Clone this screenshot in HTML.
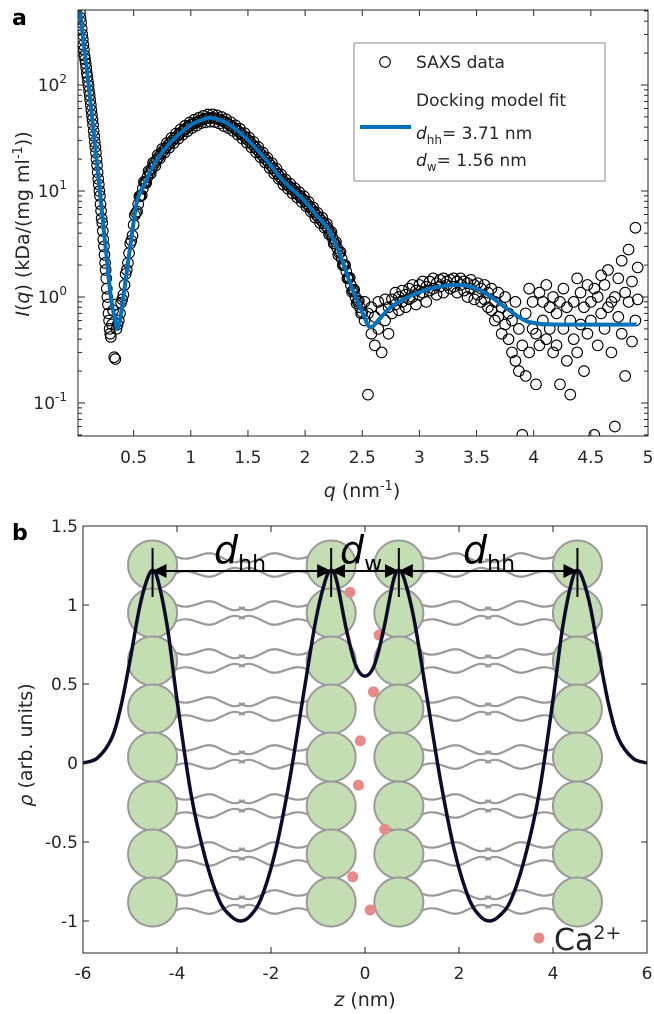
<!DOCTYPE html>
<html><head><meta charset="utf-8"><style>
html,body{margin:0;padding:0;background:#fff;}
svg{display:block;font-family:"DejaVu Sans","Liberation Sans",sans-serif;}
</style></head><body>
<svg id="fig" width="654" height="1014" viewBox="0 0 654 1014" xmlns="http://www.w3.org/2000/svg">
<defs>
<clipPath id="clipA"><rect x="78" y="10" width="570" height="426"/></clipPath>
<clipPath id="clipB"><rect x="83" y="526" width="564" height="427"/></clipPath>
<marker id="arr" viewBox="0 0 10 10" refX="10" refY="5" markerWidth="7" markerHeight="7" orient="auto-start-reverse"><path d="M0,0 L10,5 L0,10 z" fill="#000"/></marker>
</defs>
<g id="panelA"></g>
<g id="panelB"></g>
</svg>
<script>
// ---------- Panel a data ----------
const fitQ=[0.03,0.06,0.1,0.15,0.2,0.25,0.3,0.34,0.36,0.39,0.42,0.47,0.53,0.6,0.7,0.8,0.9,1.0,1.1,1.18,1.3,1.4,1.5,1.6,1.7,1.8,1.9,2.0,2.1,2.2,2.3,2.4,2.5,2.57,2.65,2.75,2.9,3.1,3.3,3.45,3.6,3.75,3.9,4.0,4.2,4.9];
const fitI=[500,260,115,36,11,3.3,1.0,0.6,0.5,0.7,1.2,3,8,12,19.5,27,34.5,42,47,49,44.6,37.8,30.3,23.3,17.4,12.8,10.1,8.0,5.9,4.4,2.6,1.3,0.72,0.52,0.62,0.8,1.0,1.2,1.3,1.25,1.05,0.8,0.62,0.57,0.55,0.55];
const dataQ=[0.03,0.035,0.04,0.045,0.05,0.055,0.06,0.065,0.07,0.075,0.08,0.085,0.09,0.095,0.1,0.105,0.11,0.115,0.12,0.125,0.13,0.135,0.14,0.145,0.15,0.155,0.16,0.165,0.17,0.175,0.18,0.185,0.19,0.195,0.2,0.205,0.21,0.215,0.22,0.225,0.23,0.235,0.24,0.245,0.25,0.255,0.26,0.265,0.27,0.275,0.28,0.285,0.29,0.295,0.3,0.31,0.32,0.33,0.34,0.345,0.35,
0.36,0.38,0.40,0.42,0.44,0.46,0.48,0.50,0.52,0.54,0.56,0.58,0.60,0.62,0.64,0.66,0.68,0.70,0.72,0.74,0.76,0.78,0.80,0.82,0.84,0.86,0.88,0.90,0.92,0.94,0.96,0.98,1.00,1.02,1.04,1.06,1.08,1.10,1.12,1.14,1.16,1.18,1.20,1.22,1.24,1.26,1.28,1.30,1.32,1.34,1.36,1.38,1.40,1.42,1.44,1.46,1.48,1.50,1.52,1.54,1.56,1.58,1.60,1.62,1.64,1.66,1.68,1.70,1.72,1.74,1.76,1.78,1.80,1.82,1.84,1.86,1.88,1.90,1.92,1.94,1.96,1.98,2.00,2.02,2.04,2.06,2.08,2.10,2.12,2.14,2.16,2.18,2.20,2.22,2.24,2.26,2.28,2.30,2.32,2.34,2.36,2.38,2.40,2.42,2.44,2.46,2.48,2.50,
2.52,2.52,2.55,2.55,2.58,2.58,2.61,2.61,2.64,2.64,2.67,2.67,2.70,2.70,2.73,2.73,2.76,2.76,2.79,2.79,2.82,2.82,2.85,2.85,2.88,2.88,2.91,2.91,2.94,2.94,2.97,2.97,3.00,3.00,3.03,3.03,3.06,3.06,3.09,3.09,3.12,3.12,3.15,3.15,3.18,3.18,3.21,3.21,3.24,3.24,3.27,3.27,3.30,3.30,3.33,3.33,3.36,3.36,3.39,3.39,3.42,3.42,3.45,3.45,3.48,3.48,3.51,3.51,3.54,3.54,3.57,3.57,3.60,3.60,3.63,3.63,3.66,3.66,3.69,3.69,3.72,3.72,3.75,3.75,3.78,3.78,3.81,3.81,3.84,3.84,3.87,3.87,3.90,3.90,3.93,3.93,3.96,3.96,3.99,3.99,4.02,4.02,4.05,4.05,4.08,4.08,4.11,4.11,4.14,4.14,4.17,4.17,4.20,4.20,4.23,4.23,4.26,4.26,4.29,4.29,4.32,4.32,4.35,4.35,4.38,4.38,4.41,4.41,4.44,4.44,4.47,4.47,4.50,4.50,4.53,4.53,4.56,4.56,4.59,4.59,4.62,4.62,4.65,4.65,4.68,4.68,4.71,4.71,4.74,4.74,4.77,4.77,4.80,4.80,4.83,4.83,4.86,4.86,4.89,4.89,4.91,4.91];
const dataI=[480,430,390,340,300,270,240,215,190,175,160,145,130,120,108,98,88,80,72,65,58,52,47,42,37,33,29,26,23,20,17.5,15,13,11.5,10,9,7.5,6.5,5.5,5,4.2,3.5,3,2.5,2.1,1.8,1.5,1.2,1.0,0.85,0.7,0.6,0.5,0.45,0.42,0.55,0.75,0.27,0.26,0.85,0.5,
0.55,0.7,0.95,1.3,1.8,2.6,3.4,4.8,6.2,7.5,9,10.5,12,13.5,15,16.5,18,19.5,21,22.5,24,25.5,27,28.5,30,31.5,33,34.5,36,37.5,39,40.5,42,43,44,45,46,47,47.8,48.5,49,49,48.8,48.3,47.5,46.7,45.7,44.6,43.3,42,40.6,39.2,37.8,36.3,34.8,33.3,31.8,30.3,28.8,27.4,26,24.6,23.3,22,20.8,19.6,18.5,17.4,16.4,15.4,14.5,13.6,12.8,12.2,11.6,11.1,10.6,10.1,9.6,9.2,8.8,8.4,8.0,7.5,7.1,6.7,6.3,5.9,5.6,5.3,5.0,4.7,4.4,4.0,3.6,3.2,2.9,2.6,2.3,2.0,1.75,1.5,1.3,1.15,1.0,0.9,0.8,0.72,
0.9,0.6,0.7,0.12,0.45,0.8,0.35,0.65,0.5,0.9,0.3,0.75,0.6,0.95,0.8,0.45,0.95,0.7,0.85,1.1,1.0,0.75,0.9,1.15,1.05,0.8,1.2,0.95,1.0,1.3,1.15,0.85,1.3,1.05,1.1,1.4,1.25,0.9,1.4,1.15,1.2,1.5,1.35,1.05,1.25,1.45,1.5,1.1,1.3,1.4,1.45,1.2,1.25,1.5,1.4,1.1,1.3,1.5,1.15,1.4,1.35,1.0,1.2,1.45,1.3,0.95,1.05,1.35,1.2,0.9,0.95,1.3,1.1,0.8,0.75,1.2,0.9,0.6,0.65,1.1,0.8,0.45,1.0,0.55,0.4,0.7,0.6,0.3,0.25,0.9,0.5,0.2,0.35,0.05,0.7,0.18,0.3,1.2,0.9,0.5,0.45,0.15,1.1,0.35,0.6,0.9,0.4,1.3,0.8,0.5,1.0,0.3,0.35,0.7,0.9,0.15,0.5,1.2,0.25,0.8,0.12,0.6,0.9,0.4,1.5,0.3,0.55,1.1,0.8,0.2,1.3,0.45,0.6,0.9,0.05,1.2,1.0,0.35,1.6,0.7,0.5,1.3,1.8,0.8,0.9,0.3,0.06,1.0,1.5,0.65,2.2,0.45,1.1,0.18,2.8,0.9,1.4,0.38,4.5,0.6,1.9,0.95];
const denseQ=[0.37,0.39,0.41,0.43,0.45,0.47,0.49,0.51,0.53,0.55,0.57,0.59,0.61,0.63,0.65,0.67,0.69,0.71,0.73,0.75,0.77,0.79,0.81,0.83,0.85,0.87,0.89,0.91,0.93,0.95,0.97,0.99,1.01,1.03,1.05,1.07,1.09,1.11,1.13,1.15,1.17,1.19,1.21,1.23,1.25,1.27,1.29,1.31,1.33,1.35,1.37,1.39,1.41,1.43,1.45,1.47,1.49,1.51,1.53,1.55,1.57,1.59,1.61,1.63,1.65,1.67,1.69,1.71,1.73,1.75,1.77,1.79,1.81,1.83,1.85,1.87,1.89,1.91,1.93,1.95,1.97,1.99,2.01,2.03,2.05,2.07,2.09,2.11,2.13,2.15,2.17,2.19,2.21,2.23,2.25,2.27,2.29,2.31,2.33,2.35,2.37,2.39,2.41,2.43,2.45,2.47,2.49];
const denseI=[0.6,0.88,1.05,1.65,2.1,3.2,3.8,5.9,6.4,8.9,9.1,12.2,11.9,15.4,14.6,18.5,17.3,21.8,20.3,25,23,28.3,25.6,31.6,28.3,34.8,31.1,38.1,34,41.3,36.6,44.3,39.3,47,41.4,49.1,43.7,51.1,44.4,52.7,45.1,52.9,44.7,51.7,43.3,49.9,40.9,47.5,39.2,44.6,36.9,41.6,34.1,38.6,31.3,35.2,28.5,32,25.8,29,23.2,26,20.8,23.1,18.6,20.6,16.5,18.3,14.6,16.2,13,14.3,11.5,12.8,10.5,11.7,9.5,10.6,8.7,9.7,7.9,8.9,7.2,7.9,6.4,7.0,5.6,6.2,5.0,5.6,4.5,4.9,3.9,4.1,3.2,3.3,2.5,2.65,2.0,2.0,1.5,1.52,1.12,1.17,0.87,0.92,0.7];
const qTicks=[0.5,1,1.5,2,2.5,3,3.5,4,4.5,5];
const qTickLabels=["0.5","1","1.5","2","2.5","3","3.5","4","4.5","5"];
const iTickExp=[2,1,0,-1];

// ---------- Panel b data ----------
const zTicks=[-6,-4,-2,0,2,4,6];
const rhoTicks=[1.5,1,0.5,0,-0.5,-1];
const rhoTickLabels=["1.5","1","0.5","0","-0.5","-1"];
const profZ=[-6,-5.7,-5.4,-5.2,-5.0,-4.8,-4.65,-4.52,-4.4,-4.2,-4.0,-3.7,-3.4,-3.1,-2.85,-2.65,-2.45,-2.2,-1.9,-1.6,-1.3,-1.05,-0.85,-0.72,-0.6,-0.4,-0.2,0,0.2,0.4,0.6,0.72,0.85,1.05,1.3,1.6,1.9,2.2,2.45,2.65,2.85,3.1,3.4,3.7,4.0,4.2,4.4,4.52,4.65,4.8,5.0,5.2,5.4,5.7,6];
const profRho=[0,0.03,0.15,0.35,0.65,0.98,1.15,1.22,1.15,0.85,0.4,-0.2,-0.6,-0.87,-0.97,-1.0,-0.97,-0.85,-0.55,-0.1,0.45,0.9,1.15,1.22,1.15,0.85,0.62,0.55,0.62,0.85,1.15,1.22,1.15,0.9,0.45,-0.1,-0.55,-0.85,-0.97,-1.0,-0.97,-0.87,-0.6,-0.2,0.4,0.85,1.15,1.22,1.15,0.98,0.65,0.35,0.15,0.03,0];
const headZ=[-4.52,-0.72,0.72,4.52];
const tailDir=[1,-1,1,-1];
const ionZ=[-0.32,0.3,0.18,-0.1,-0.14,0.42,-0.26,0.11];
const ionRho=[1.08,0.81,0.45,0.14,-0.14,-0.42,-0.72,-0.93];

const NS="http://www.w3.org/2000/svg";
function mk(tag,attrs,parent){const e=document.createElementNS(NS,tag);for(const k in attrs)e.setAttribute(k,attrs[k]);parent.appendChild(e);return e;}
function smooth(pts){let d=`M${pts[0][0]},${pts[0][1]}`;for(let i=0;i<pts.length-1;i++){const p0=pts[i-1]||pts[i],p1=pts[i],p2=pts[i+1],p3=pts[i+2]||p2;
d+=` C${p1[0]+(p2[0]-p0[0])/6},${p1[1]+(p2[1]-p0[1])/6} ${p2[0]-(p3[0]-p1[0])/6},${p2[1]-(p3[1]-p1[1])/6} ${p2[0]},${p2[1]}`;}return d;}

// ===== Panel A =====
const A=document.getElementById('panelA');
const xq=q=>76.5+114.3*q;
const yI=v=>297-106*Math.log10(v);
const gd=mk('g',{'clip-path':'url(#clipA)'},A);


for(let i=0;i<dataQ.length;i++){
 const c=mk('circle',{cx:xq(dataQ[i]),cy:yI(dataI[i]),r:5.3,fill:'none',stroke:'#000','stroke-width':1.1},gd);
 
 
}
for(let i=0;i<denseQ.length;i++){
 const c=mk('circle',{cx:xq(denseQ[i]),cy:yI(denseI[i]),r:5.3,fill:'none',stroke:'#000','stroke-width':1.1},gd);
 
 
}
const fitPath=mk('path',{d:smooth(fitQ.map((q,i)=>[xq(q),yI(fitI[i])])),fill:'none',stroke:'#0072BD','stroke-width':4,'clip-path':'url(#clipA)'},A);


const fa=mk('rect',{x:78,y:10,width:570,height:426,fill:'none',stroke:'#262626','stroke-width':1},A);


qTicks.forEach((q,i)=>{const x=xq(q);
 mk('line',{x1:x,y1:436,x2:x,y2:430,stroke:'#262626'},A);mk('line',{x1:x,y1:10,x2:x,y2:16,stroke:'#262626'},A);
 const t=mk('text',{x:x,y:463,'text-anchor':'middle','font-size':17,fill:'#262626'},A);t.textContent=qTickLabels[i];
 
 
});
for(let e=-2;e<=2;e++){for(let m=1;m<10;m++){const v=m*Math.pow(10,e);const y=yI(v);if(y<10||y>436)continue;const L=m===1?7:4;
 mk('line',{x1:78,y1:y,x2:78+L,y2:y,stroke:'#262626'},A);mk('line',{x1:648,y1:y,x2:648-L,y2:y,stroke:'#262626'},A);}}
iTickExp.forEach(e=>{const y=yI(Math.pow(10,e));
 const t=mk('text',{x:67,y:y+6,'text-anchor':'end','font-size':17,fill:'#262626'},A);
 
 
 t.innerHTML=`10<tspan dy="-8" font-size="12">${e}</tspan>`;
});
let t=mk('text',{x:12,y:25,'font-size':22,'font-weight':'bold',fill:'#000'},A);t.textContent='a';

t=mk('text',{x:0,y:0,'text-anchor':'middle','font-size':19,fill:'#262626',transform:'translate(29,224) rotate(-90)'},A);

t.innerHTML='<tspan font-style="italic">I</tspan>(<tspan font-style="italic">q</tspan>) (kDa/(mg ml<tspan dy="-7" font-size="13">-1</tspan><tspan dy="7">))</tspan>';
t=mk('text',{x:362,y:497,'text-anchor':'middle','font-size':19,fill:'#262626'},A);

t.innerHTML='<tspan font-style="italic">q</tspan> (nm<tspan dy="-7" font-size="13">-1</tspan><tspan dy="7">)</tspan>';
const lg=mk('g',{},A);
mk('rect',{x:354,y:43,width:251,height:138,fill:'#fff',stroke:'#8a8a8a','stroke-width':1},lg);
mk('circle',{cx:385,cy:62,r:5.3,fill:'none',stroke:'#000','stroke-width':1.1},lg);
t=mk('text',{x:416,y:68,'font-size':17,fill:'#262626'},lg);t.textContent='SAXS data';

mk('line',{x1:360,y1:127,x2:411,y2:127,stroke:'#0072BD','stroke-width':4},lg);
t=mk('text',{x:416,y:106,'font-size':17,fill:'#262626'},lg);t.textContent='Docking model fit';

t=mk('text',{x:416,y:139,'font-size':17,fill:'#262626'},lg);
t.innerHTML='<tspan font-style="italic">d</tspan><tspan dy="5" font-size="12">hh</tspan><tspan dy="-5">= 3.71 nm</tspan>';

t=mk('text',{x:416,y:166,'font-size':17,fill:'#262626'},lg);
t.innerHTML='<tspan font-style="italic">d</tspan><tspan dy="5" font-size="12">w</tspan><tspan dy="-5">= 1.56 nm</tspan>';


// ===== Panel B =====
const B=document.getElementById('panelB');
const xz=z=>83+47*(z+6);
const yr=r=>763-158*r;
const gb=mk('g',{'clip-path':'url(#clipB)'},B);
const rows=[565,613,661,709,757,806,854,902];
const gt=mk('g',{},gb);
headZ.forEach((z,k)=>{const cx=xz(z),d=tailDir[k];rows.forEach(y=>{[-9,9].forEach((o,j)=>{
 const x0=cx+d*22,yy=y+o;const s=j?1:-1;
 mk('path',{d:`M${x0},${yy} c${d*18},${s*-9} ${d*28},${s*8} ${d*42},${s*1} s${d*18},${s*-10} ${d*28},${s*-4}`,fill:'none',stroke:'#9a9a9a','stroke-width':2.2},gt);});});});
const gh=mk('g',{},gb);
headZ.forEach(z=>rows.forEach(y=>{const c=mk('circle',{cx:xz(z),cy:y,r:24.5,fill:'#c4ddb2',stroke:'#9a9a9a','stroke-width':2},gh);
 }));
ionZ.forEach((z,i)=>{const c=mk('circle',{cx:xz(z),cy:yr(ionRho[i]),r:5.5,fill:'#e88a8a'},gb);
 });
const pf=mk('path',{d:smooth(profZ.map((z,i)=>[xz(z),yr(profRho[i])])),fill:'none',stroke:'#0b0b2b','stroke-width':3.5},gb);

const gm=mk('g',{},B);
headZ.forEach(z=>mk('line',{x1:xz(z),y1:548,x2:xz(z),y2:597,stroke:'#000','stroke-width':2},gm));
for(let i=0;i<3;i++){mk('line',{x1:xz(headZ[i]),y1:571,x2:xz(headZ[i+1]),y2:571,stroke:'#000','stroke-width':2,'marker-start':'url(#arr)','marker-end':'url(#arr)'},gm);}
t=mk('text',{x:214,y:563,'font-size':38,fill:'#000'},gm);
t.innerHTML='<tspan font-style="italic">d</tspan><tspan dy="8" font-size="22">hh</tspan>';

t=mk('text',{x:340,y:563,'font-size':38,fill:'#000'},gm);
t.innerHTML='<tspan font-style="italic">d</tspan><tspan dy="8" font-size="22">w</tspan>';

t=mk('text',{x:463,y:563,'font-size':38,fill:'#000'},gm);
t.innerHTML='<tspan font-style="italic">d</tspan><tspan dy="8" font-size="22">hh</tspan>';

const cl=mk('circle',{cx:539,cy:938,r:5.5,fill:'#e88a8a'},B);

t=mk('text',{x:554,y:950,'font-size':30,fill:'#262626'},B);
t.innerHTML='Ca<tspan dy="-11" font-size="19">2+</tspan>';

const fb=mk('rect',{x:83,y:526,width:564,height:427,fill:'none',stroke:'#262626','stroke-width':1},B);

zTicks.forEach(z=>{const x=xz(z);mk('line',{x1:x,y1:953,x2:x,y2:947,stroke:'#262626'},B);mk('line',{x1:x,y1:526,x2:x,y2:532,stroke:'#262626'},B);
 const tt=mk('text',{x:x,y:979,'text-anchor':'middle','font-size':17,fill:'#262626'},B);tt.textContent=String(z);
 });
rhoTicks.forEach((r,i)=>{const y=yr(r);mk('line',{x1:83,y1:y,x2:89,y2:y,stroke:'#262626'},B);mk('line',{x1:647,y1:y,x2:641,y2:y,stroke:'#262626'},B);
 const tt=mk('text',{x:78,y:y+6,'text-anchor':'end','font-size':17,fill:'#262626'},B);tt.textContent=rhoTickLabels[i];
 });
t=mk('text',{x:12,y:540,'font-size':22,'font-weight':'bold',fill:'#000'},B);t.textContent='b';

t=mk('text',{x:0,y:0,'text-anchor':'middle','font-size':19,fill:'#262626',transform:'translate(32,745) rotate(-90)'},B);
t.innerHTML='<tspan font-style="italic">ρ</tspan> (arb. units)';

t=mk('text',{x:365,y:1006,'text-anchor':'middle','font-size':19,fill:'#262626'},B);
t.innerHTML='<tspan font-style="italic">z</tspan> (nm)';

</script>
</body></html>
